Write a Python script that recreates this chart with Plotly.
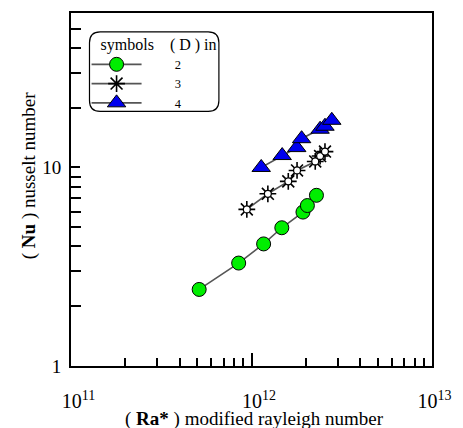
import plotly.graph_objects as go

# ---- data ----
ra_d2 = [5.13e11, 8.49e11, 1.167e12, 1.472e12, 1.928e12, 2.04e12, 2.29e12]
nu_d2 = [2.43, 3.30, 4.12, 4.97, 5.96, 6.43, 7.24]

ra_d3 = [9.42e11, 1.232e12, 1.599e12, 1.788e12, 2.255e12, 2.399e12, 2.553e12]
nu_d3 = [6.15, 7.37, 8.51, 9.66, 10.72, 11.42, 12.02]

ra_d4 = [1.132e12, 1.479e12, 1.781e12, 1.895e12, 2.399e12, 2.553e12, 2.785e12]
nu_d4 = [10.0, 11.48, 12.59, 13.96, 15.58, 16.13, 17.28]

NB = "\u00a0"
x_tickvals = [1e11, 1e12, 1e13]
x_ticktext = [NB * 3 + "10<sup>11</sup>", NB * 3 + "10<sup>12</sup>",
              NB + "10<sup>13</sup>"]
x_minor = [2e11, 3e11, 4e11, 5e11, 6e11, 7e11, 8e11, 9e11,
           2e12, 3e12, 4e12, 5e12, 6e12, 7e12, 8e12, 9e12]
y_tickvals = [1, 10]
y_ticktext = ["1", "10"]
y_minor = [2, 3, 4, 5, 6, 7, 8, 9, 20, 30, 40, 50]

FONT = "Liberation Serif"
LINE = "#555555"

fig = go.Figure()

fig.add_trace(go.Scatter(
    x=ra_d2, y=nu_d2, mode="lines+markers", name=NB * 9 + "2",
    line=dict(color=LINE, width=1.6),
    marker=dict(symbol="circle", size=14, color="#00ee00",
                line=dict(color="black", width=1)),
))
fig.add_trace(go.Scatter(
    x=ra_d3, y=nu_d3, mode="lines+markers", name=NB * 9 + "3",
    legendgroup="d3",
    line=dict(color=LINE, width=1.6),
    marker=dict(symbol="asterisk-open", size=14, color="black",
                line=dict(color="black", width=1.6)),
))
fig.add_trace(go.Scatter(
    x=ra_d3, y=nu_d3, mode="markers", name="3", legendgroup="d3",
    showlegend=False,
    marker=dict(symbol="circle", size=7, color="white",
                line=dict(color="black", width=1.3)),
))
fig.add_trace(go.Scatter(
    x=ra_d4, y=nu_d4, mode="lines+markers", name=NB * 9 + "4",
    line=dict(color=LINE, width=1.6),
    marker=dict(symbol="triangle-up", size=16, color="#0000ee",
                line=dict(color="black", width=1)),
))

axis_common = dict(
    showgrid=False, zeroline=False, showline=True, linecolor="black",
    linewidth=2, mirror=True, ticks="inside", tickcolor="black",
    tickwidth=1.5,
)

fig.update_xaxes(
    type="log", range=[11, 13], tickmode="array",
    tickvals=x_tickvals, ticktext=x_ticktext, ticklen=13,
    tickfont=dict(family=FONT, size=20, color="black"),
    ticklabelstandoff=16,
    minor=dict(tickmode="array", tickvals=x_minor, ticks="inside",
               ticklen=8, tickwidth=1.5, tickcolor="black"),
    **axis_common,
)
fig.update_yaxes(
    type="log", range=[0, 1.778], tickmode="array",
    tickvals=y_tickvals, ticktext=y_ticktext, ticklen=9,
    tickfont=dict(family=FONT, size=19, color="black"),
    ticklabelstandoff=4,
    minor=dict(tickmode="array", tickvals=y_minor, ticks="inside",
               ticklen=10, tickwidth=1.5, tickcolor="black"),
    **axis_common,
)

# rounded legend frame
W, H = 463, 428
L, R, T, B = 71, 21, 11, 62
pw, ph = W - L - R, H - T - B


def px2paper(xp, yp):
    return (xp - L) / pw, (H - B - yp) / ph


x0, y0 = 90, 30
x1, y1 = 223, 110
r = 11


def P(xp, yp):
    a, b = px2paper(xp, yp)
    return f"{a:.5f},{b:.5f}"


path = (f"M {P(x0 + r, y0)} L {P(x1 - r, y0)} Q {P(x1, y0)} {P(x1, y0 + r)} "
        f"L {P(x1, y1 - r)} Q {P(x1, y1)} {P(x1 - r, y1)} "
        f"L {P(x0 + r, y1)} Q {P(x0, y1)} {P(x0, y1 - r)} "
        f"L {P(x0, y0 + r)} Q {P(x0, y0)} {P(x0 + r, y0)} Z")
fig.add_shape(type="path", path=path, xref="paper", yref="paper",
              line=dict(color="black", width=1.2), fillcolor="white",
              layer="above")

lx, ly = px2paper(x0 - 3, y0 - 3)
fig.update_layout(
    width=W, height=H,
    margin=dict(l=L, r=R, t=T, b=B, pad=0),
    paper_bgcolor="white", plot_bgcolor="white",
    font=dict(family=FONT, color="black"),
    showlegend=True,
    legend=dict(
        x=lx, y=ly, xanchor="left", yanchor="top",
        bgcolor="rgba(0,0,0,0)", borderwidth=0,
        title=dict(text=NB * 3 + "symbols" + NB * 4 + "( D ) in",
                   font=dict(family=FONT, size=16, color="black"), side="top"),
        font=dict(family=FONT, size=12.5, color="black"),
        itemwidth=50, tracegroupgap=0,
    ),
    annotations=[
        dict(text="( <b>Ra*</b> ) modified rayleigh number", xref="paper",
             yref="paper", x=(260 - L) / pw, y=px2paper(0, 419)[1],
             xanchor="center", yanchor="middle", showarrow=False,
             borderpad=0,
             font=dict(family=FONT, size=19, color="black")),
        dict(text="( <b>Nu</b> ) nusselt number", xref="paper", yref="paper",
             x=px2paper(28, 0)[0], y=px2paper(0, 175)[1], textangle=-90,
             xanchor="center", yanchor="middle", showarrow=False,
             font=dict(family=FONT, size=19, color="black")),
    ],
)

fig.write_html("out.html", config={"displayModeBar": False},
               post_script="document.body.style.margin='0';"
                           "document.body.style.padding='0';")
